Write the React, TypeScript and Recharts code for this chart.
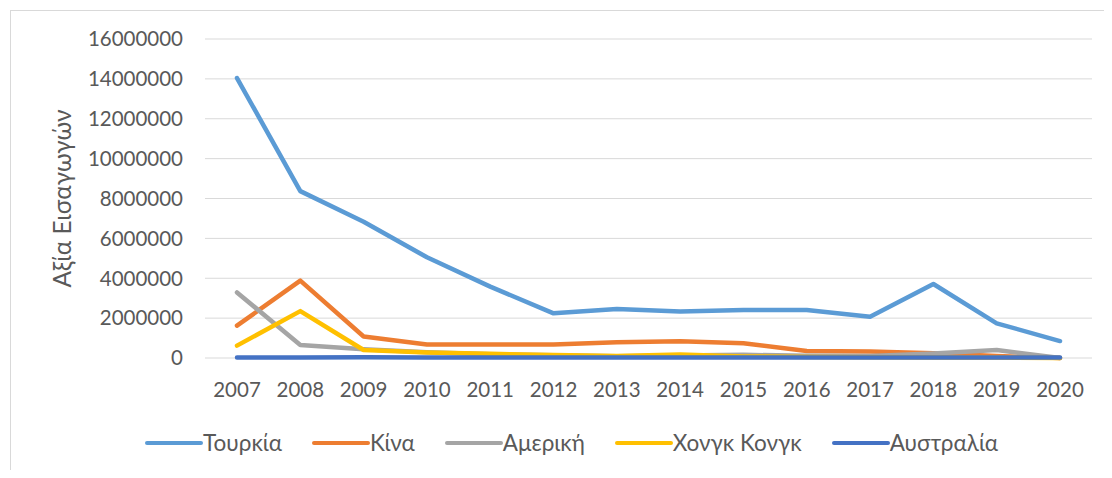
import React from 'react';
import { LineChart, Line, XAxis, YAxis, CartesianGrid, Legend } from 'recharts';

const years = ['2007', '2008', '2009', '2010', '2011', '2012', '2013', '2014', '2015', '2016', '2017', '2018', '2019', '2020'];
const turkey = [14040000, 8370000, 6830000, 5050000, 3580000, 2240000, 2460000, 2330000, 2410000, 2410000, 2070000, 3710000, 1740000, 850000];
const china = [1620000, 3880000, 1080000, 680000, 680000, 680000, 790000, 840000, 740000, 350000, 330000, 240000, 100000, 0];
const america = [3290000, 650000, 440000, 290000, 190000, 140000, 90000, 120000, 160000, 110000, 100000, 220000, 400000, 0];
const hongKong = [620000, 2350000, 400000, 280000, 210000, 150000, 100000, 170000, 80000, 50000, 40000, 30000, 20000, 0];
const australia = [20000, 20000, 40000, 30000, 30000, 30000, 20000, 20000, 20000, 20000, 20000, 20000, 20000, 20000];
const yTicks = [0, 2000000, 4000000, 6000000, 8000000, 10000000, 12000000, 14000000, 16000000];

const series = [
  { key: 'turkey', name: 'Τουρκία', color: '#5B9BD5' },
  { key: 'china', name: 'Κίνα', color: '#ED7D31' },
  { key: 'america', name: 'Αμερική', color: '#A5A5A5' },
  { key: 'hongKong', name: 'Χονγκ Κονγκ', color: '#FFC000' },
  { key: 'australia', name: 'Αυστραλία', color: '#4472C4' },
];

const data = years.map((year, i) => ({
  year,
  turkey: turkey[i],
  china: china[i],
  america: america[i],
  hongKong: hongKong[i],
  australia: australia[i],
}));

const font = 'Lato, "Open Sans", sans-serif';
const textColor = '#595959';

const LegendContent = () => (
  <div style={{ display: 'flex', alignItems: 'center', fontFamily: font, fontSize: 22.5, color: textColor }}>
    {series.map((s) => (
      <div key={s.key} style={{ display: 'flex', alignItems: 'center', marginRight: 30 }}>
        <svg width={58} height={8}>
          <line x1={2} y1={4} x2={56} y2={4} stroke={s.color} strokeWidth={4} strokeLinecap="round" />
        </svg>
        <span style={{ whiteSpace: 'nowrap' }}>{s.name}</span>
      </div>
    ))}
  </div>
);

export default function App() {
  return (
    <div style={{ margin: -8, width: 1112, height: 478, position: 'relative', background: '#fff', overflow: 'hidden' }}>
      <div
        style={{
          position: 'absolute',
          left: 10,
          top: 10,
          width: 1200,
          height: 600,
          borderTop: '1px solid #d9d9d9',
          borderLeft: '1px solid #d9d9d9',
        }}
      />
      <LineChart width={1112} height={478} data={data} margin={{ top: 39, right: 20, bottom: 80, left: 0 }}>
        <CartesianGrid vertical={false} stroke="#d9d9d9" strokeWidth={1} />
        <XAxis
          dataKey="year"
          axisLine={false}
          tickLine={false}
          tickSize={0}
          tickMargin={24}
          interval={0}
          height={40}
          padding={{ left: 32, right: 32 }}
          tick={{ fill: textColor, fontSize: 20.5, fontFamily: font }}
        />
        <YAxis
          width={205}
          domain={[0, 16000000]}
          ticks={yTicks}
          axisLine={false}
          tickLine={false}
          tickSize={0}
          tickMargin={22}
          tick={{ fill: textColor, fontSize: 20.5, fontFamily: font }}
          label={{
            value: 'Αξία Εισαγωγών',
            angle: -90,
            position: 'insideLeft',
            offset: 62,
            style: { fill: textColor, fontSize: 24.5, fontFamily: font, textAnchor: 'middle' },
          }}
        />
        <Legend
          layout="horizontal"
          verticalAlign="middle"
          content={<LegendContent />}
          wrapperStyle={{ position: 'absolute', left: 145, top: 429, width: 'auto' }}
        />
        {series.map((s) => (
          <Line
            key={s.key}
            dataKey={s.key}
            name={s.name}
            stroke={s.color}
            strokeWidth={4.5}
            strokeLinejoin="round"
            strokeLinecap="round"
            dot={false}
            activeDot={false}
            type="linear"
            isAnimationActive={false}
          />
        ))}
      </LineChart>
    </div>
  );
}
